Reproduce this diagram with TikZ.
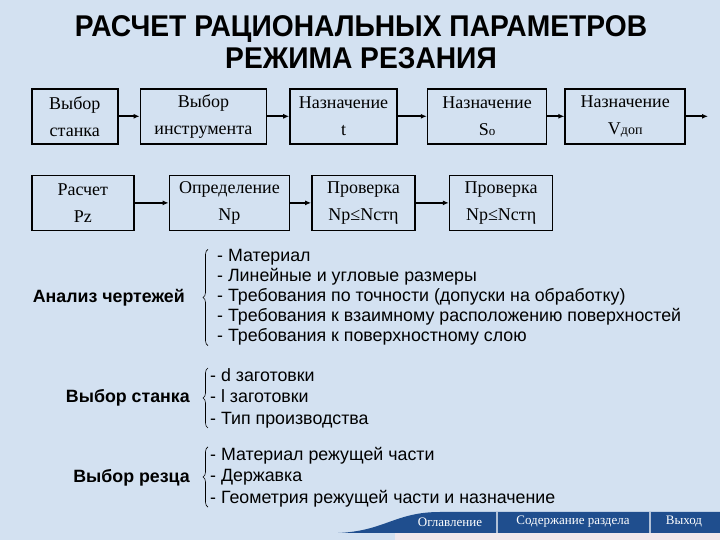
\documentclass[tikz,border=0pt]{standalone}
\usepackage{fontspec}
\setmainfont{Liberation Serif}
\newfontfamily\listfont{Liberation Sans}
\newfontfamily\titlefont[FakeStretch=0.94]{Liberation Sans}
\usepackage{xcolor}
\usetikzlibrary{arrows.meta,positioning,decorations.pathreplacing}
\definecolor{slideblue}{RGB}{211,225,241}
\definecolor{navblue}{RGB}{31,78,142}
\definecolor{navstrip}{RGB}{240,232,236}

\begin{document}
\begin{tikzpicture}[x=1pt, y=1pt,
    box/.style={draw, line width=1.6pt, minimum height=55pt, inner sep=0pt, align=center, font=\fontsize{18}{27}\selectfont, anchor=north west},
    arrow/.style={-{Latex[length=6pt,width=5pt]}, line width=1.6pt},
    brace/.style={decorate, decoration={brace, amplitude=5pt}, line width=0.6pt},
    head/.style={font=\listfont\bfseries\fontsize{17.8}{20}\selectfont, anchor=east, inner sep=0pt},
    items/.style={font=\listfont\fontsize{17.8}{20}\selectfont, align=left, anchor=west, inner sep=0pt},
    navtext/.style={text=white, font=\fontsize{13}{15}\selectfont}
  ]
    \useasboundingbox[fill=slideblue] (0,0) rectangle (720,540);

    \node[font=\titlefont\bfseries\fontsize{30}{32}\selectfont, align=center] (title) at (361,498) {РАСЧЕТ РАЦИОНАЛЬНЫХ ПАРАМЕТРОВ\\РЕЖИМА РЕЗАНИЯ};

    % first row
    \node[box, minimum width=86pt] (stanok) at (31,452) {Выбор\\станка};
    \node[box, minimum width=126pt, right=21pt of stanok.north east, anchor=north west] (instr) {Выбор\\инструмента};
    \node[box, minimum width=107pt, right=22pt of instr.north east, anchor=north west] (glub) {Назначение\\t};
    \node[box, minimum width=119pt, right=29pt of glub.north east, anchor=north west] (podacha) {Назначение\\S{\fontsize{13}{27}\selectfont о}};
    \node[box, minimum width=120pt, right=17pt of podacha.north east, anchor=north west] (vdop) {Назначение\\V{\fontsize{14}{27}\selectfont доп}};
    \coordinate[right=22pt of vdop.east] (vend);

    \draw[arrow] (stanok) -- (instr);
    \draw[arrow] (instr) -- (glub);
    \draw[arrow] (glub) -- (podacha);
    \draw[arrow] (podacha) -- (vdop);
    \draw[arrow] (vdop.east) -- (vend);

    % second row
    \node[box, minimum width=102pt, below=30pt of stanok.south west, anchor=north west] (pz) {Расчет\\Рz};
    \node[box, minimum width=120pt, right=34pt of pz.north east, anchor=north west] (np) {Определение\\Nр};
    \node[box, minimum width=103pt, right=21pt of np.north east, anchor=north west] (check1) {Проверка\\Nр≤Nстη};
    \node[box, minimum width=103pt, right=33pt of check1.north east, anchor=north west] (check2) {Проверка\\Nр≤Nстη};

    \draw[arrow] (pz) -- (np);
    \draw[arrow] (np) -- (check1);
    \draw[arrow] (check1) -- (check2);

    % lists with braces
    \node[head] (analiz) at (185,242) {Анализ чертежей};
    \node[items] (analizlist) at (217,242.5) {- Материал\\- Линейные и угловые размеры\\- Требования по точности (допуски на обработку)\\- Требования к взаимному расположению поверхностей\\- Требования к поверхностному слою};
    \draw[brace] ([xshift=-9pt]analizlist.south west) -- ([xshift=-9pt]analizlist.north west);

    \node[head] (vybstanok) at (190,142) {Выбор станка};
    \node[items, font=\listfont\fontsize{17.8}{21.5}\selectfont] (stanoklist) at (210,142) {- d заготовки\\- l заготовки\\- Тип производства};
    \draw[brace] ([xshift=-2pt]stanoklist.south west) -- ([xshift=-2pt]stanoklist.north west);

    \node[head] (vybrez) at (190,62) {Выбор резца};
    \node[items, font=\listfont\fontsize{17.8}{21.5}\selectfont] (rezlist) at (210,63) {- Материал режущей части\\- Державка\\- Геометрия режущей части и назначение};
    \draw[brace] ([xshift=-2pt]rezlist.south west) -- ([xshift=-2pt]rezlist.north west);

    % navigation bar
    \fill[navstrip] (395,7) rectangle (720,0);
    \fill[navblue] (338,7) .. controls (385,9) and (395,28) .. (440,28) -- (720,28) -- (720,7) -- cycle;
    \draw[white!65!navblue, line width=1.5pt] (497,28) -- (497,7);
    \draw[white!65!navblue, line width=1.5pt] (650,28) -- (650,7);
    \node[navtext] (toc) at (450,18) {Оглавление};
    \node[navtext] (content) at (573,18) {Содержание раздела};
    \node[navtext] (exit) at (684,18) {Выход};
  \end{tikzpicture}
\end{document}
